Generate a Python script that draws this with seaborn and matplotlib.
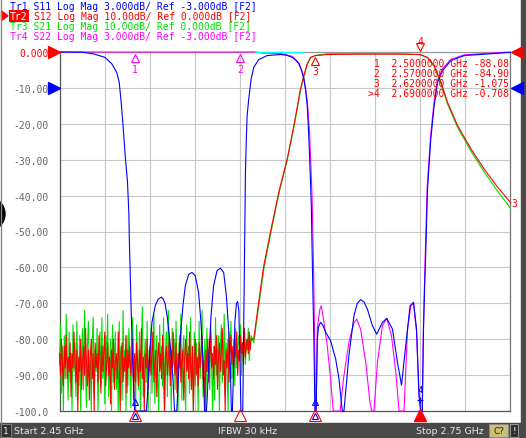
import matplotlib
matplotlib.use("Agg")
import matplotlib.pyplot as plt
import seaborn as sns
import numpy as np
from matplotlib.patches import Rectangle, Circle, Polygon

sns.set_style("white")
plt.rcParams['font.family'] = ['DejaVu Sans Mono', 'DejaVu Sans']

# ---------------- data ----------------
F_START, F_STOP = 2.45, 2.75
x_ticks = [2.45, 2.48, 2.51, 2.54, 2.57, 2.60, 2.63, 2.66, 2.69, 2.72, 2.75]
y_ticks = [0, -10, -20, -30, -40, -50, -60, -70, -80, -90, -100]
y_labels = ["0.000", "-10.00", "-20.00", "-30.00", "-40.00", "-50.00",
            "-60.00", "-70.00", "-80.00", "-90.00", "-100.0"]

header_lines = [
    "Tr1 S11 Log Mag 3.000dB/ Ref -3.000dB [F2]",
    "Tr2 S12 Log Mag 10.00dB/ Ref 0.000dB [F2]",
    "Tr3 S21 Log Mag 10.00dB/ Ref 0.000dB [F2]",
    "Tr4 S22 Log Mag 3.000dB/ Ref -3.000dB [F2]",
]
marker_f = [2.50, 2.57, 2.62, 2.69]
marker_db = [-88.08, -84.90, -1.075, -0.708]
marker_table = [
    " 1  2.5000000 GHz -88.08",
    " 2  2.5700000 GHz -84.90",
    " 3  2.6200000 GHz -1.075",
    ">4  2.6900000 GHz -0.708",
]

# S11 (Tr1, blue) as displayed on the screen grid
s11_f = [2.4500, 2.4648, 2.4725, 2.4803, 2.4848, 2.4881, 2.4897, 2.4908, 2.4921,
         2.4937, 2.4952, 2.4961, 2.4965, 2.4977, 2.4990, 2.5000, 2.5077, 2.5085,
         2.5103, 2.5115, 2.5137, 2.5157, 2.5177, 2.5190, 2.5203, 2.5219, 2.5237,
         2.5255, 2.5265, 2.5280, 2.5285, 2.5303, 2.5321, 2.5337, 2.5359, 2.5381,
         2.5403, 2.5425, 2.5441, 2.5455, 2.5465, 2.5477, 2.5483, 2.5492, 2.5508,
         2.5525, 2.5548, 2.5570, 2.5592, 2.5610, 2.5625, 2.5637, 2.5643, 2.5650,
         2.5657, 2.5667, 2.5677, 2.5685, 2.5693, 2.5700, 2.5707, 2.5719, 2.5722,
         2.5730, 2.5737, 2.5743, 2.5748, 2.5759, 2.5775, 2.5792, 2.5825, 2.5881,
         2.5970, 2.6010, 2.6048, 2.6070, 2.6092, 2.6110, 2.6125, 2.6137, 2.6148,
         2.6159, 2.6167, 2.6175, 2.6183, 2.6192, 2.6199, 2.6207, 2.6215, 2.6223,
         2.6237, 2.6250, 2.6270, 2.6303, 2.6337, 2.6359, 2.6381, 2.6392, 2.6403,
         2.6425, 2.6459, 2.6481, 2.6503, 2.6525, 2.6548, 2.6581, 2.6610, 2.6648,
         2.6677, 2.6715, 2.6748, 2.6775, 2.6803, 2.6832, 2.6855, 2.6875, 2.6892,
         2.6903, 2.6913, 2.6921, 2.6930, 2.6937, 2.6948, 2.6970, 2.6992, 2.7015,
         2.7048, 2.7103, 2.7192, 2.7348, 2.7500]
s11_db = [0.0, -0.05, -0.5, -1.5, -3.3, -5.7, -8.4, -13.0, -19.5,
          -28.9, -36.0, -44.6, -53.0, -72.4, -90.0, -100.0, -100.0, -96.0,
          -82.0, -75.3, -70.7, -68.8, -68.3, -68.8, -70.2, -74.4, -81.8,
          -91.0, -100.0, -100.0, -96.0, -80.0, -70.7, -65.1, -62.0, -61.4,
          -62.3, -66.9, -75.3, -86.4, -100.0, -100.0, -96.0, -86.4, -73.4,
          -65.1, -60.9, -60.2, -61.4, -67.9, -77.2, -88.3, -100.0, -100.0,
          -90.0, -75.0, -70.0, -69.5, -72.0, -85.0, -100.0, -100.0, -89.0,
          -61.0, -33.5, -24.0, -17.7, -13.0, -7.5, -4.3, -2.1, -1.0,
          -0.7, -0.9, -1.5, -2.2, -3.3, -5.0, -7.5, -10.5, -15.0,
          -24.2, -33.0, -42.8, -61.3, -80.0, -100.0, -100.0, -80.0, -76.5,
          -75.3, -76.0, -78.0, -80.4, -85.5, -91.0, -100.0, -100.0, -95.0,
          -84.6, -73.4, -70.0, -69.0, -69.6, -71.6, -76.2, -78.6, -75.3,
          -74.2, -77.2, -86.4, -92.8, -81.8, -70.7, -69.7, -77.2, -95.7,
          -100.0, -100.0, -78.0, -63.7, -54.9, -38.2, -24.2, -15.0, -8.4,
          -5.2, -2.4, -1.0, -0.56, -0.1]

# S22 (Tr4, magenta)
s22_f = [2.4500, 2.5803, 2.5850, 2.5970, 2.6048, 2.6092, 2.6125, 2.6148, 2.6163,
         2.6180, 2.6190, 2.6197, 2.6203, 2.6207, 2.6215, 2.6232, 2.6241, 2.6259,
         2.6281, 2.6303, 2.6321, 2.6367, 2.6389, 2.6425, 2.6459, 2.6477, 2.6503,
         2.6537, 2.6565, 2.6577, 2.6592, 2.6615, 2.6648, 2.6677, 2.6708, 2.6737,
         2.6759, 2.6792, 2.6815, 2.6837, 2.6855, 2.6875, 2.6890, 2.6903, 2.6913,
         2.6921, 2.6935, 2.6946, 2.6968, 2.6990, 2.7013, 2.7046, 2.7100, 2.7190,
         2.7348, 2.7500]
s22_db = [0.0, 0.0, -0.3, -0.4, -1.2, -3.0, -7.0, -13.5, -22.0,
          -40.0, -60.0, -80.0, -100.0, -100.0, -77.0, -71.6, -70.7, -75.3,
          -81.8, -91.0, -100.0, -100.0, -91.0, -80.9, -75.3, -74.4, -77.2,
          -86.4, -97.5, -100.0, -100.0, -86.4, -76.2, -74.2, -79.0, -89.2,
          -100.0, -100.0, -77.2, -70.7, -70.0, -78.0, -95.0, -100.0, -100.0,
          -76.0, -53.0, -37.5, -23.5, -14.5, -8.0, -4.8, -2.1, -0.8,
          -0.35, 0.0]

# S12 (Tr2, red) and S21 (Tr3, green): stop-band noise floor
s12_noise_db = [
    -84, -90, -80, -87, -93, -82, -88, -79, -91, -85, -89, -81, -96, -84, -88, -78, -86, -92, -83, -100,
    -85, -89, -80, -94, -86, -82, -90, -77, -87, -93, -83, -97, -85, -80, -91, -84, -100, -81, -88, -84,
    -92, -79, -86, -95, -82, -89, -84, -78, -93, -87, -81, -90, -85, -98, -83, -88, -80, -94, -86, -84,
    -91, -78, -87, -100, -84, -81, -92, -85, -89, -79, -95, -83, -88, -82, -90, -86, -80, -97, -84, -92,
    -81, -87, -93, -83, -89, -77, -91, -85, -100, -84, -88, -80, -94, -86, -82, -90, -84, -78, -92, -87,
    -83, -96, -85, -81, -89, -84, -91, -79, -87, -100, -85, -82, -90, -86, -80, -93, -83, -88, -78, -86,
    -90, -81, -95, -84, -88, -79, -92, -86, -83, -97, -85, -80, -89, -84, -91, -78, -87, -94, -82, -100,
    -86, -80, -90, -85, -93, -81, -88, -84, -79, -91, -86, -100, -83, -89, -80, -92, -85, -78, -88, -84,
    -91, -82, -87, -79, -94, -85, -81, -89, -84, -77, -90, -86, -100, -83, -88, -80, -92, -84, -79, -87,
    -82, -88, -80, -85, -78, -90, -83, -86, -79, -84, -81, -87, -77, -85, -82, -80, -84, -78, -83, -80]
s21_noise_db = [
    -87, -76, -95, -82, -100, -79, -91, -73, -86, -97, -78, -92, -84, -100, -76, -89, -81, -96, -75, -88,
    -93, -79, -100, -85, -77, -94, -72, -88, -99, -82, -75, -90, -86, -100, -80, -74, -95, -83, -89, -77,
    -100, -86, -78, -93, -74, -91, -82, -98, -79, -87, -73, -96, -88, -80, -100, -76, -92, -84, -78, -94,
    -86, -100, -75, -90, -82, -97, -72, -89, -83, -100, -79, -93, -77, -85, -99, -81, -74, -91, -87, -100,
    -76, -85, -94, -78, -100, -82, -71, -96, -86, -80, -92, -75, -100, -83, -89, -77, -95, -81, -73, -98,
    -85, -79, -91, -100, -76, -88, -82, -93, -74, -100, -84, -78, -96, -72, -90, -83, -100, -77, -87, -80,
    -94, -75, -89, -100, -81, -86, -73, -97, -84, -79, -92, -100, -76, -88, -82, -95, -74, -90, -85, -100,
    -78, -93, -81, -87, -100, -75, -91, -84, -72, -96, -86, -80, -100, -77, -89, -83, -94, -76, -88, -100,
    -82, -97, -74, -90, -85, -79, -100, -83, -76, -92, -87, -73, -95, -81, -88, -100, -78, -84, -75, -91,
    -86, -80, -93, -77, -88, -82, -79, -85, -76, -90, -81, -84, -78, -87, -80, -83, -77, -86, -81, -79]
noise_f = np.linspace(2.45, 2.5775, len(s12_noise_db))  # sweep points of the floor

pass_f = [2.5792, 2.5825, 2.5859, 2.5903, 2.5959, 2.6015, 2.6059, 2.6103, 2.6125,
          2.6148, 2.6170, 2.6203, 2.6281, 2.6503, 2.6770, 2.6900, 2.6948, 2.6992,
          2.7037, 2.7081, 2.7148, 2.7237, 2.7325, 2.7415, 2.7500]
s12_pass_db = [-80.0, -69.7, -59.5, -50.2, -39.0, -29.8, -20.5, -10.3, -6.6,
               -3.3, -1.5, -1.0, -0.7, -0.6, -0.6, -0.71, -1.5, -3.8,
               -8.4, -14.0, -20.5, -27.0, -32.6, -37.7, -41.9]
s21_pass_db = [-81.0, -71.0, -60.5, -51.0, -39.5, -30.0, -21.0, -10.8, -7.0,
               -3.5, -1.6, -0.95, -0.5, -0.5, -0.5, -0.75, -1.6, -4.0,
               -8.8, -14.5, -21.0, -27.6, -33.4, -38.8, -43.5]

cyan_f = [2.5803, 2.6123]
cyan_db = [0.0, 0.0]

BLUE, RED, GREEN, MAG = '#0000ff', '#ff0000', '#00e000', '#ff00ff'

# ---------------- figure ----------------
W, H = 526, 439
fig = plt.figure(figsize=(W / 100, H / 100), dpi=100)
fig.patch.set_facecolor('white')

ov = fig.add_axes([0, 0, 1, 1], zorder=0)
ov.set_xlim(0, W)
ov.set_ylim(H, 0)
ov.axis('off')

ax = fig.add_axes([59.5 / W, 1 - 412 / H, 451 / W, 359 / H], zorder=2)
ax.set_facecolor('white')
ax.set_xlim(F_START, F_STOP)
ax.set_ylim(-100, 0)
ax.set_xticks(x_ticks)
ax.set_xticklabels([])
ax.set_yticks(y_ticks)
ax.set_yticklabels(y_labels)
ax.tick_params(axis='both', length=0)
ax.tick_params(axis='y', pad=8.0, labelsize=7, labelcolor='#666666')
ax.get_yticklabels()[0].set_color(RED)
ax.grid(True, color='#c8c8c8', lw=0.8)
ax.set_axisbelow(True)
for side, col in [('left', '#555555'), ('bottom', '#555555'),
                  ('right', '#777777'), ('top', '#999999')]:
    ax.spines[side].set_color(col)
    ax.spines[side].set_linewidth(0.9)

lw = 0.8
kw = dict(ax=ax, estimator=None, sort=False, lw=lw, zorder=3)
sns.lineplot(x=s22_f, y=s22_db, color=MAG, **kw)
sns.lineplot(x=cyan_f, y=cyan_db, color='#00ffff', **kw)
sns.lineplot(x=list(noise_f) + pass_f, y=s21_noise_db + s21_pass_db, color=GREEN, **kw)
sns.lineplot(x=list(noise_f) + pass_f, y=s12_noise_db + s12_pass_db, color=RED, **kw)
sns.lineplot(x=s11_f, y=s11_db, color=BLUE, **kw)
for ln in ax.get_lines():
    ln.set_clip_on(False)
ax.set_xlabel('')
ax.set_ylabel('')

# markers on the screen
mk = dict(clip_on=False, zorder=5, linestyle='none')
for f, lab in [(2.50, '1'), (2.57, '2')]:
    ax.plot([f], [-1.7], marker='^', ms=6, mfc='none', mec=MAG, mew=0.8, **mk)
    ax.text(f, -4.6, lab, color=MAG, fontsize=7, ha='center', va='center', zorder=5)
ax.plot([2.62], [-2.4], marker='^', ms=6, mfc='none', mec=RED, mew=0.8, **mk)
ax.text(2.62, -5.4, '3', color=RED, fontsize=7, ha='center', va='center', zorder=5)
ax.plot([2.69], [1.3], marker='v', ms=6, mfc='none', mec=RED, mew=0.8, **mk)
ax.text(2.69, 3.2, '4', color=RED, fontsize=7, ha='center', va='center', clip_on=False, zorder=5)
ax.text(2.7525, -42.0, '3', color=RED, fontsize=7, ha='center', va='center', clip_on=False, zorder=5)

# marker readouts on the traces
ax.plot([2.50, 2.62], [-97.5, -97.5], marker='^', ms=5, mfc='none', mec=BLUE, mew=0.8, **mk)
ax.plot([2.69], [-97.0], marker='+', ms=5, mec=BLUE, mew=0.9, **mk)
ax.text(2.69, -94.0, '4', color=BLUE, fontsize=6.5, ha='center', va='center', zorder=5)

# stimulus markers below the axis
for f in [2.50, 2.57, 2.62]:
    ax.plot([f], [-101.2], marker='^', ms=8, mfc='none', mec=RED, mew=0.8, **mk)
for f in [2.50, 2.62]:
    ax.plot([f], [-101.4], marker='^', ms=4.5, mfc='none', mec=BLUE, mew=0.8, **mk)
ax.plot([2.69], [-101.2], marker='^', ms=8, mfc=RED, mec=RED, **mk)

# reference-position arrows
ax.plot([2.4464], [0], marker='>', ms=8.5, color=RED, **mk)
ax.plot([2.4464], [-10], marker='>', ms=8.5, color=BLUE, **mk)
ax.plot([2.7543], [0], marker='<', ms=8.5, color=RED, **mk)
ax.plot([2.7543], [-10], marker='<', ms=8.5, color=BLUE, **mk)

# marker table
for i, line in enumerate(marker_table):
    ax.text(0.997, 1 - (11.3 + 10 * i) / 359, line, transform=ax.transAxes,
            color=RED, fontsize=7, ha='right', va='center', zorder=6)

# ---------------- header ----------------
hcols = [BLUE, RED, GREEN, MAG]
for i, (line, col) in enumerate(zip(header_lines, hcols)):
    yy = 6.7 + 10 * i
    if i == 1:
        ov.text(10, yy, "Tr2", color='white', fontsize=7, va='center', ha='left',
                bbox=dict(facecolor=RED, edgecolor='none', pad=0.6))
        ov.text(33.5, yy, line[4:], color=col, fontsize=7, va='center', ha='left')
    else:
        ov.text(10, yy, line, color=col, fontsize=7, va='center', ha='left')
ov.add_patch(Polygon([[1.5, 12], [8, 16.8], [1.5, 21.5]], closed=True, color=RED))

# ---------------- frame decorations ----------------
ov.plot([1, 1], [0, 424], color='#888888', lw=1.0)
ov.add_patch(Circle((-12, 215), 17, color='black'))
ov.add_patch(Rectangle((521, 0), 5, 424, color='#4a4a4a'))

# status bar
ov.add_patch(Rectangle((0, 424), W, 15, color='#484848'))
ov.add_patch(Rectangle((0.5, 425), 10, 13.5, facecolor='#303030', edgecolor='#888888', lw=0.6))
ov.text(5.5, 431.5, '1', color='#e8e8e8', fontsize=6.5, family='DejaVu Sans', ha='center', va='center')
ov.text(13.5, 431.5, 'Start 2.45 GHz', color='#e8e8e8', fontsize=6.8, family='DejaVu Sans', ha='left', va='center')
ov.text(248, 431.5, 'IFBW 30 kHz', color='#e8e8e8', fontsize=6.8, family='DejaVu Sans', ha='center', va='center')
ov.text(483.5, 431.5, 'Stop 2.75 GHz', color='#e8e8e8', fontsize=6.8, family='DejaVu Sans', ha='right', va='center')
ov.add_patch(Rectangle((489, 425), 19, 13.5, facecolor='#c8c07a', edgecolor='#888888', lw=0.6))
ov.text(498.5, 431.5, 'C?', color='#222222', fontsize=6.5, family='DejaVu Sans', ha='center', va='center')
ov.add_patch(Rectangle((510, 425), 8, 13.5, facecolor='#303030', edgecolor='#aaaaaa', lw=0.6))
ov.text(514, 431.5, '!', color='#ffffff', fontsize=6.5, family='DejaVu Sans', ha='center', va='center')

fig.savefig('out.png', dpi=100, facecolor='white')
